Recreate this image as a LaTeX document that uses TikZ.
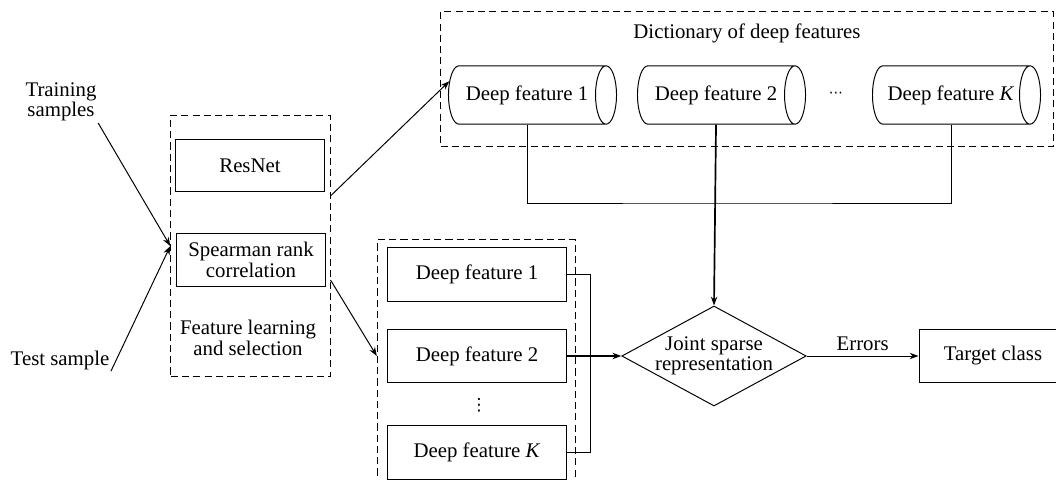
\documentclass[tikz,border=0pt]{standalone}
\usepackage{fontspec}
\setmainfont{Liberation Serif}
\newfontfamily\dotsfont{DejaVu Sans}
\usetikzlibrary{shapes.geometric,arrows.meta}

\tikzset{
  every node/.style={font=\fontsize{14.8}{14.5}\selectfont, align=center},
  block/.style={draw, line width=0.7pt, minimum width=3.7cm, minimum height=1.32cm, inner sep=0pt},
  featbox/.style={block, minimum width=4.49cm, minimum height=1.34cm},
  dashbox/.style={draw, line width=0.7pt, dash pattern=on 5pt off 3pt, inner sep=0pt},
  drum/.style={cylinder, draw, line width=0.7pt, shape aspect=1.1, minimum height=4.2cm, minimum width=1.46cm, inner sep=0pt},
  decision/.style={diamond, draw, line width=0.7pt, aspect=1.84, minimum width=4.61cm, minimum height=2.5cm, inner sep=0pt},
  smalldots/.style={font=\dotsfont\fontsize{10}{10}\selectfont, inner sep=0pt},
  arr/.style={-{Stealth[length=2.2mm,width=1.6mm]}, line width=0.7pt},
  link/.style={line width=0.7pt}
}

\begin{document}
\begin{tikzpicture}[x=0.025cm, y=-0.025cm]
  \useasboundingbox (0,0) rectangle (1056,479);

  % inputs
  \node[inner sep=1pt] (train) at (61,102) {Training\\samples};
  \node[inner sep=1pt] (test) at (60,360) {Test sample};

  % feature learning and selection
  \node[dashbox, minimum width=3.98cm, minimum height=6.54cm] (fl) at (250.4,246) {};
  \node[block] (resnet) at (250,165.5) {ResNet};
  \node[block] (spear) at (251,259.7) {Spearman rank\\correlation};
  \node (fltxt) at (248,338) {Feature learning\\and selection};

  % dictionary
  \node[dashbox, minimum width=15.32cm, minimum height=3.37cm] (dict) at (747,79.4) {};
  \node (dicttxt) at (747,33) {Dictionary of deep features};
  \node[drum] (c1) at (527,95) {Deep feature 1};
  \node[drum] (c2) at (716,95) {Deep feature 2};
  \node[smalldots] (cdots) at (836,95) {⋯};
  \node[drum] (cK) at (951,95) {Deep feature \textit{K}};

  % test features
  \node[dashbox, minimum width=4.96cm, minimum height=6.3cm] (tf) at (476.5,366) {};
  \node[featbox] (f1) at (477,274.2) {Deep feature 1};
  \node[featbox] (f2) at (477,356) {Deep feature 2};
  \node[smalldots, font=\dotsfont\fontsize{12}{12}\selectfont] (fdots) at (479,405) {⋮};
  \node[featbox] (fK) at (477,452.5) {Deep feature \textit{K}};

  % classification
  \node[decision, label={center:Joint sparse\\representation}] (jsr) at (714,356) {};
  \node[block] (target) at (993,356) {Target class};

  \coordinate (bus) at (716,203);
  \coordinate (fork) at (590.7,356);

  \draw[arr] (train.south east) -- (fl.west);
  \draw[arr] (test.south east) -- (fl.west);
  \draw[arr] (fl.32) -- (c1.170);
  \draw[arr] (fl.-23) -- (tf.west |- f2.center);
  \draw[link] (c1.south) |- (bus) -| (cK.south);
  \draw[arr, line width=1.2pt] (c2.south) -- (jsr.north);
  \draw[link] (f1.east) -| (fork) |- (fK.east);
  \draw[arr, line width=1.2pt] (f2.east) -- (jsr.west);
  \draw[arr] (jsr.east) -- node[above] {Errors} (target.west);
\end{tikzpicture}
\end{document}
